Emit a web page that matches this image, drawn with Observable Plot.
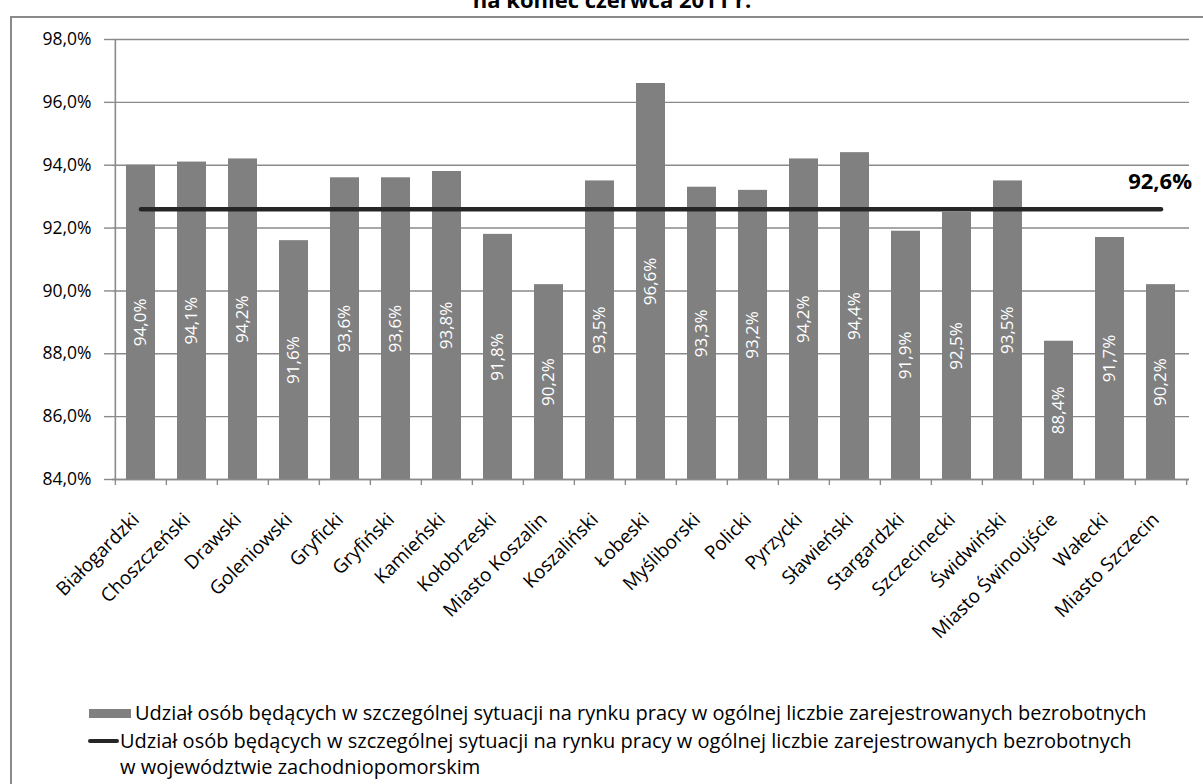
<!DOCTYPE html>
<html>
<head>
<meta charset="utf-8">
<script src="https://cdn.jsdelivr.net/npm/d3@7"></script>
<script src="https://cdn.jsdelivr.net/npm/@observablehq/plot@0.6"></script>
<style>
  html, body { margin: 0; padding: 0; background: #fff; overflow: hidden; }
  #wrap { position: relative; width: 1203px; height: 784px; overflow: hidden; font-family: "Open Sans", sans-serif; color: #000; }
  .hline { position: absolute; left: 10px; top: 16px; width: 1193px; height: 1.5px; background: #8a8a8a; }
  .vline { position: absolute; left: 10px; top: 16px; width: 1.5px; height: 768px; background: #8a8a8a; }
  #title { position: absolute; left: 0; width: 1224px; top: -12px; text-align: center; font-weight: bold; font-size: 22px; line-height: 22px; white-space: nowrap; }
  #chart { position: absolute; left: 0; top: 0; }
  .leg { position: absolute; font-size: 20px; line-height: 26px; white-space: nowrap; }
  .sw-bar { position: absolute; background: #808080; }
  .sw-line { position: absolute; background: #262626; border-radius: 2px; }
</style>
</head>
<body>
<div id="wrap">
  <div class="hline"></div>
  <div class="vline"></div>
  <div id="title"></div>
  <div id="chart"></div>
  <div class="sw-bar" style="left:89px; top:709px; width:42px; height:9px;"></div>
  <div class="leg" id="leg1" style="left:135px; top:700px;"></div>
  <div class="sw-line" style="left:88px; top:739px; width:31px; height:4px;"></div>
  <div class="leg" id="leg2" style="left:120px; top:728px;"></div>
  <div class="leg" id="leg3" style="left:120px; top:754px;"></div>
</div>
<script>
const titleText = "na koniec czerwca 2011 r.";
const categories = ["Białogardzki","Choszczeński","Drawski","Goleniowski","Gryficki","Gryfiński","Kamieński","Kołobrzeski","Miasto Koszalin","Koszaliński","Łobeski","Myśliborski","Policki","Pyrzycki","Sławieński","Stargardzki","Szczecinecki","Świdwiński","Miasto Świnoujście","Wałecki","Miasto Szczecin"];
const values = [94.0,94.1,94.2,91.6,93.6,93.6,93.8,91.8,90.2,93.5,96.6,93.3,93.2,94.2,94.4,91.9,92.5,93.5,88.4,91.7,90.2];
const regionAverage = 92.6;
const yTicks = [84,86,88,90,92,94,96,98];
const legendBars = "Udział osób będących w szczególnej sytuacji na rynku pracy w ogólnej liczbie zarejestrowanych bezrobotnych";
const legendLine1 = "Udział osób będących w szczególnej sytuacji na rynku pracy w ogólnej liczbie zarejestrowanych bezrobotnych";
const legendLine2 = "w województwie zachodniopomorskim";

document.getElementById("title").textContent = titleText;
document.getElementById("leg1").textContent = legendBars;
document.getElementById("leg2").textContent = legendLine1;
document.getElementById("leg3").textContent = legendLine2;

const data = categories.map((c, i) => ({category: c, value: values[i]}));
const fmt = d => d.toFixed(1).replace(".", ",") + "%";

const W = 1203, mL = 112, mR = 14;
const step = (W - mL - mR) / categories.length;
const gray = "#8a8a8a";
const yMin = yTicks[0];

const chart = Plot.plot({
  width: W,
  height: 690,
  marginLeft: mL,
  marginRight: mR,
  marginTop: 39,
  marginBottom: 211,
  x: {type: "band", domain: categories, paddingInner: 0.435, paddingOuter: 0.2175},
  y: {domain: [yMin, yTicks[yTicks.length - 1]]},
  style: {fontFamily: "Open Sans, sans-serif", fontSize: "17px", color: "#000", background: "transparent", overflow: "visible"},
  marks: [
    Plot.gridY(yTicks, {stroke: gray, strokeOpacity: 1, strokeWidth: 1.4}),
    Plot.barY(data, {x: "category", y1: yMin, y2: "value", fill: "#808080"}),
    Plot.ruleY([yMin], {stroke: gray, strokeWidth: 1.6}),
    Plot.ruleX([categories[0]], {x: d => d, dx: -step / 2, stroke: gray, strokeWidth: 1.6}),
    Plot.ruleX(categories, {x: d => d, dx: -step / 2, y1: yMin, y2: yMin, insetBottom: -6, stroke: gray, strokeWidth: 1.4}),
    Plot.ruleX([categories[categories.length - 1]], {x: d => d, dx: step / 2, y1: yMin, y2: yMin, insetBottom: -6, stroke: gray, strokeWidth: 1.4}),
    Plot.axisY(yTicks, {tickFormat: fmt, tickSize: 8, tickPadding: 13, stroke: gray, strokeWidth: 1.4, fontSize: 17.5, label: null}),
    Plot.axisX({tickRotate: -45, tickSize: 0, tickPadding: 37, dx: -5, fontSize: 19, label: null}),
    Plot.text(data, {x: "category", y: d => (d.value + yMin) / 2, text: d => fmt(d.value), rotate: -90, fill: "white", fontSize: 17}),
    Plot.lineY(categories, {x: d => d, y: () => regionAverage, stroke: "#262626", strokeWidth: 4.5, strokeLinecap: "round"}),
    Plot.text([categories[categories.length - 1]], {x: d => d, y: () => regionAverage, text: () => fmt(regionAverage), fontWeight: "bold", fontSize: 22, textAnchor: "end", dx: 31, dy: -27})
  ]
});
document.getElementById("chart").appendChild(chart);
</script>
</body>
</html>
